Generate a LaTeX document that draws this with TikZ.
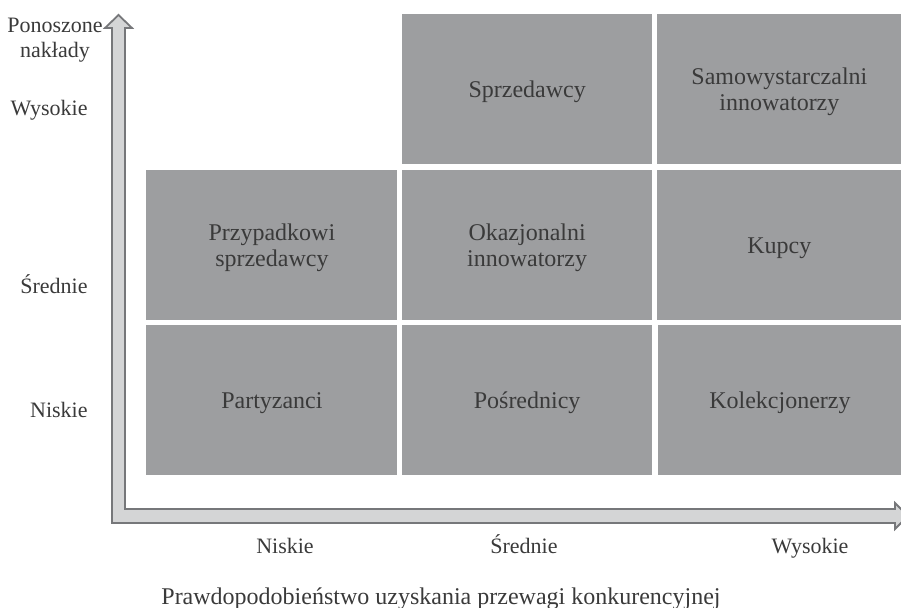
\documentclass[tikz,border=0pt]{standalone}
\usepackage{fontspec}
\setmainfont{Liberation Serif}
\definecolor{cellgray}{HTML}{9D9EA0}
\definecolor{ink}{HTML}{3A3A3A}
\definecolor{axisfill}{HTML}{D4D5D6}
\definecolor{axisline}{HTML}{76777A}
% raises the first line of a two-line label so the block sits a little lower
\newcommand\firstlinestrut{\rule{0pt}{11pt}}
\begin{document}
\begin{tikzpicture}[x=0.5pt,y=-0.5pt,
  txt/.style={text=ink, font=\fontsize{12}{13}\selectfont, inner sep=0pt},
  small/.style={font=\fontsize{11}{12.5}\selectfont},
  oneline/.style={txt, text height=9.4pt, text depth=0.8pt},
  smallline/.style={txt, small, text height=8.6pt, text depth=0.7pt},
  twolines/.style={txt, align=center},
  cell/.style={fill=cellgray, anchor=north west, minimum height=75pt},
  wide/.style={minimum width=125.5pt},
  mid/.style={minimum width=125.25pt},
  edge/.style={minimum width=122pt},
  ylab/.style={smallline, anchor=east},
  axis/.style={fill=axisfill, draw=axisline, line width=0.9pt, line join=miter}]
\useasboundingbox (0,0) rectangle (901,608);
\clip (0,0) rectangle (901,608);

% the two axes as one L-shaped double arrow
\draw[axis] (112,523) -- (112,28) -- (105,28) -- (118.5,15) -- (132,28) -- (125,28)
  -- (125,509) -- (895,509) -- (895,503) -- (908,516) -- (895,529) -- (895,523) -- cycle;

% matrix cells
\node[cell,mid,oneline]   (c12) at (401.5,14)  {Sprzedawcy};
\node[cell,edge,twolines] (c13) at (657,14)    {\firstlinestrut Samowystarczalni\\innowatorzy};
\node[cell,wide,twolines] (c21) at (146,170)   {\firstlinestrut Przypadkowi\\sprzedawcy};
\node[cell,mid,twolines]  (c22) at (401.5,170) {\firstlinestrut Okazjonalni\\innowatorzy};
\node[cell,edge,oneline]  (c23) at (657,170)   {Kupcy};
\node[cell,wide,oneline]  (c31) at (146,325)   {Partyzanci};
\node[cell,mid,oneline]   (c32) at (401.5,325) {Pośrednicy};
\node[cell,edge,oneline,minimum width=121.5pt] (c33) at (658,325) {Kolekcjonerzy};

% vertical axis labels
\node[twolines,small] (ytitle) at (55,36) {\firstlinestrut Ponoszone\\nakłady};
\node[ylab] (yhigh) at (88,108) {Wysokie};
\node[ylab] (ymid)  at (88,286) {Średnie};
\node[ylab] (ylow)  at (88,410) {Niskie};

% horizontal axis labels
\node[smallline] (xlow)  at (285,546) {Niskie};
\node[smallline] (xmid)  at (524,546) {Średnie};
\node[smallline] (xhigh) at (810,546) {Wysokie};
\node[oneline] (xtitle) at (441,596) {Prawdopodobieństwo uzyskania przewagi konkurencyjnej};
\end{tikzpicture}
\end{document}
